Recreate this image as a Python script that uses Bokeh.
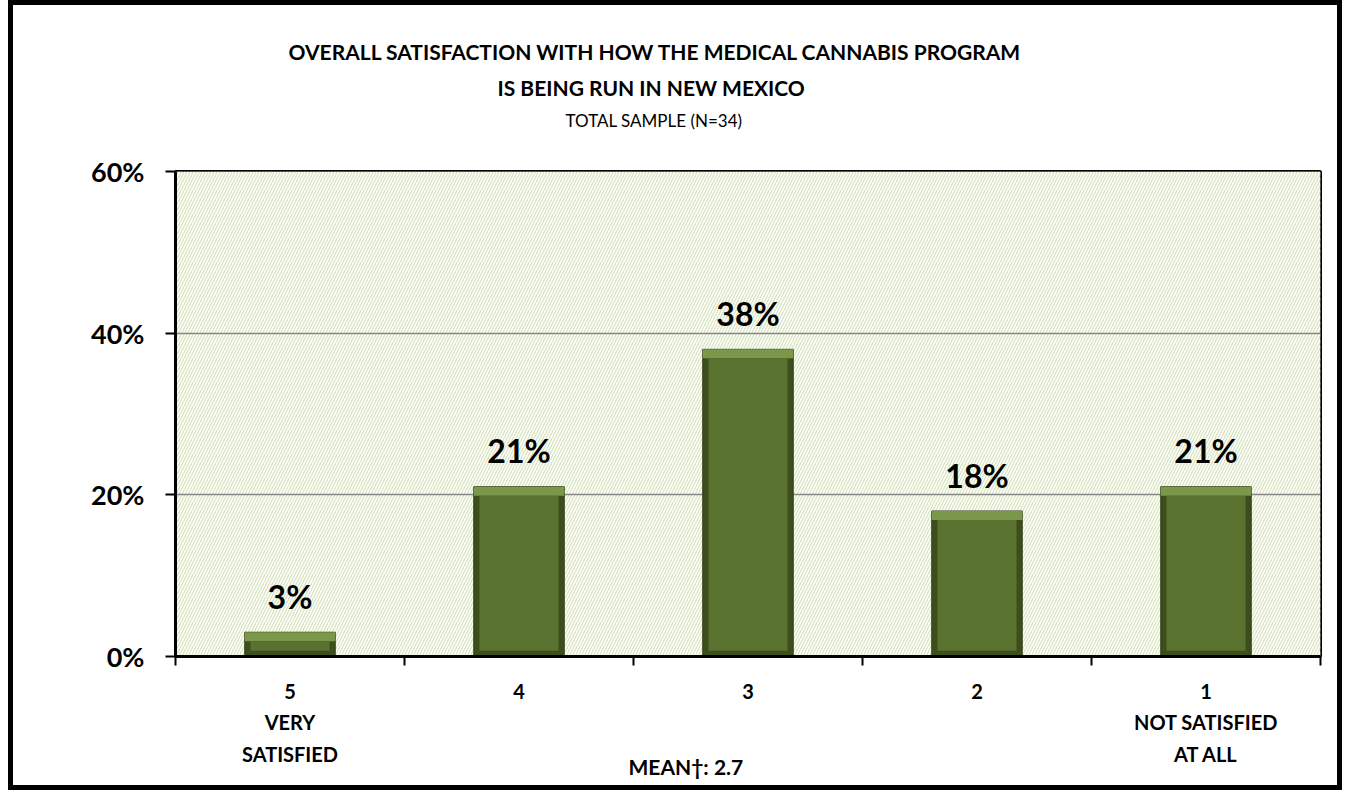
from bokeh.plotting import figure
from bokeh.models import (ColumnDataSource, FixedTicker, NumeralTickFormatter, LinearAxis,
                          BoxAnnotation, Title, Range1d)
from bokeh.core.properties import value
from bokeh.embed import file_html
from bokeh.resources import INLINE

# ---- data ----
categories = ["5", "4", "3", "2", "1"]
descriptors = ["VERY\nSATISFIED", "", "", "", "NOT SATISFIED\nAT ALL"]
percents = [3, 21, 38, 18, 21]
y_ticks = [0, 0.2, 0.4, 0.6]
title_lines = ["OVERALL SATISFACTION WITH HOW THE MEDICAL CANNABIS PROGRAM",
               "IS BEING RUN IN NEW MEXICO"]
subtitle = "TOTAL SAMPLE (N=34)"
mean_text = "MEAN\u2020: 2.7"

FONT = "Lato"
SUB_X = 2.09  # horizontal anchor of the subtitle, in category units

xs = [i + 0.5 for i in range(len(categories))]
bounds = list(range(len(categories) + 1))
vals = [p / 100 for p in percents]
bar_w = 0.395
bevel = 0.011
src = ColumnDataSource(dict(
    x=xs, top=vals,
    bevel_bottom=[v - bevel for v in vals],
    face_bottom=[0.007 for v in vals],
    label=[f"{p}%" for p in percents],
))

p = figure(width=1334, height=790, x_range=Range1d(0, len(categories)), y_range=Range1d(0, 0.6),
           output_backend="svg", toolbar_location=None, x_axis_location=None,
           min_border_left=162, min_border_top=166, min_border_right=27, min_border_bottom=139)
p.styles = {"border": "5px solid black", "margin-left": "8px"}
p.background_fill_color = "white"
p.outline_line_color = "black"
p.outline_line_width = 3
p.outline_line_alpha = 1

# hatched plot area
p.add_layout(BoxAnnotation(fill_color="white", fill_alpha=1, hatch_pattern="/",
                           hatch_color="#d8e4c0", hatch_scale=6, hatch_weight=1.3,
                           line_color=None, level="image"))

# y axis
ya = p.yaxis[0]
ya.ticker = FixedTicker(ticks=y_ticks)
ya.formatter = NumeralTickFormatter(format="0%")
ya.major_label_text_font = FONT
ya.major_label_text_font_style = "bold"
ya.major_label_text_font_size = "27px"
ya.major_label_text_color = "black"
ya.major_tick_out = 10
ya.major_tick_in = 0
ya.major_tick_line_width = 2
ya.minor_tick_line_color = None
ya.axis_line_width = 3
ya.major_label_standoff = 21

p.xgrid.visible = False
p.ygrid.ticker = FixedTicker(ticks=y_ticks)
p.ygrid.grid_line_color = "#868686"
p.ygrid.grid_line_width = 1.5

# x axis: labels at category centres, ticks at category boundaries
overrides = {}
for x, c, d in zip(xs, categories, descriptors):
    overrides[x] = c + ("\n" + d if d else "")
xl = LinearAxis(ticker=FixedTicker(ticks=xs, minor_ticks=bounds), major_label_overrides=overrides,
                axis_line_width=3, major_tick_line_color=None,
                major_tick_out=0, major_tick_in=0,
                minor_tick_out=9, minor_tick_in=0, minor_tick_line_width=2,
                minor_tick_line_color="black",
                major_label_text_font=FONT, major_label_text_font_style="bold",
                major_label_text_font_size="20px", major_label_text_color="black",
                major_label_text_line_height=1.32, major_label_standoff=13)
p.add_layout(xl, "below")
p.add_layout(Title(text=mean_text, align="left", offset=453, vertical_align="top",
                   standoff=-30, text_font=FONT, text_font_style="bold",
                   text_font_size="21px", text_color="black"), "below")

# subtitle as the label of a tick-less top axis
sub_axis = LinearAxis(ticker=FixedTicker(ticks=[SUB_X]), major_label_overrides={SUB_X: subtitle},
                      major_tick_out=0, major_tick_in=0, axis_line_color=None,
                      major_tick_line_color=None, minor_tick_line_color=None,
                      major_label_standoff=41, major_label_text_font=FONT,
                      major_label_text_font_style="normal", major_label_text_font_size="17px",
                      major_label_text_color="black")
p.add_layout(sub_axis, "above")
p.add_layout(Title(text=title_lines[1], align="left", offset=322, standoff=13,
                   text_font=FONT, text_font_style="bold", text_font_size="21px",
                   text_color="black"), "above")
p.add_layout(Title(text=title_lines[0], align="left", offset=113, standoff=5,
                   text_font=FONT, text_font_style="bold", text_font_size="21px",
                   text_color="black"), "above")

# bars with a simple bevel
p.vbar(x="x", top="top", bottom=0, width=bar_w, source=src,
       fill_color="#3d4e1c", line_color="#2e3b14", line_width=1)
p.vbar(x="x", top="top", bottom="bevel_bottom", width=bar_w, source=src,
       fill_color="#7b984a", line_color=None)
p.vbar(x="x", top="bevel_bottom", bottom="face_bottom", width=bar_w - 0.05, source=src,
       fill_color="#5a7230", line_color=None)

p.text(x="x", y="top", text="label", source=src, text_align="center",
       text_baseline="alphabetic", y_offset=-36, text_font=value(FONT),
       text_font_style="bold", text_font_size="32px", text_color="black")

open("out.html", "w").write(file_html(p, INLINE))
